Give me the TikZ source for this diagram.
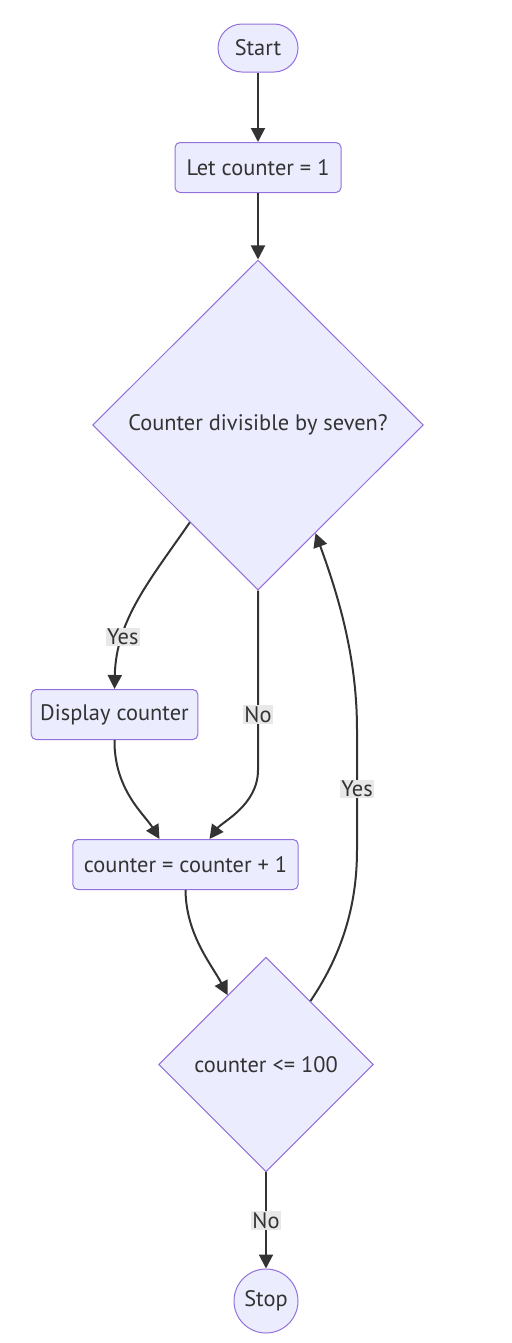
\documentclass[tikz,border=0pt]{standalone}
\usepackage{fontspec}
\setmainfont{PT Sans}
\usepackage{tikz}
\usetikzlibrary{arrows.meta, shapes.geometric}
\definecolor{nodefill}{HTML}{ECECFF}
\definecolor{nodeline}{HTML}{9370DB}
\definecolor{edgeline}{HTML}{333333}
\definecolor{lblfill}{HTML}{E8E8E8}

\begin{document}
\begin{tikzpicture}[x=.75pt, y=-.75pt,
        every node/.style={font=\fontsize{16.8}{20}\selectfont, text=edgeline},
        box/.style={draw=nodeline, fill=nodefill, line width=.75pt, rounded corners=3.75pt, minimum height=37.5pt},
        term/.style={box, rounded corners=18pt, minimum width=60pt, minimum height=36pt},
        stopcircle/.style={draw=nodeline, fill=nodefill, line width=.75pt, circle, minimum size=48pt, inner sep=0pt},
        choice/.style={draw=nodeline, fill=nodefill, line width=.75pt, diamond, inner sep=0pt},
        flow/.style={draw=edgeline, line width=1.5pt, -{Triangle[length=10.5pt, width=10.5pt]}},
        lbl/.style={fill=lblfill, inner sep=1pt}]
        \useasboundingbox (0, 0) rectangle (511, 1343);
        \node[term] (start) at (258, 48) {Start};
        \node[box, minimum width=124.5pt] (init) at (258, 167.5) {Let counter = 1};
        \node[choice, minimum width=248pt, minimum height=247.5pt] (seven) at (258, 425) {Counter divisible by seven?};
        \node[box, minimum width=125pt] (show) at (114.5, 714.5) {Display counter};
        \node[box, minimum width=169pt] (incr) at (185.5, 864.5) {counter = counter + 1};
        \node[choice, minimum width=161pt, minimum height=161pt] (limit) at (266, 1064.5) {counter <= 100};
        \node[stopcircle] (stop) at (266, 1301) {Stop};

        \draw[flow] (start) -- (init);
        \draw[flow] (init) -- (seven);
        \draw[flow] (seven.235) .. controls (150, 580) and (116, 620) .. (show.north) node[lbl, pos=.72] {Yes};
        \draw[flow] (seven.south) -- node[lbl, pos=.69] {No} (258, 770) .. controls (258, 805) and (222, 822) .. ([xshift=18pt]incr.north);
        \draw[flow] (show.south) .. controls (114, 790) and (145, 815) .. ([xshift=-19.5pt]incr.north);
        \draw[flow] (incr.south) .. controls (186, 935) and (212, 965) .. (limit.119);
        \draw[flow] (limit.55) .. controls (345, 950) and (357, 900) .. (357, 850) -- node[lbl, pos=.51] {Yes} (357, 730) .. controls (357, 660) and (340, 600) .. (seven.298);
        \draw[flow] (limit.south) -- node[lbl] {No} (stop.north);
\end{tikzpicture}
\end{document}
